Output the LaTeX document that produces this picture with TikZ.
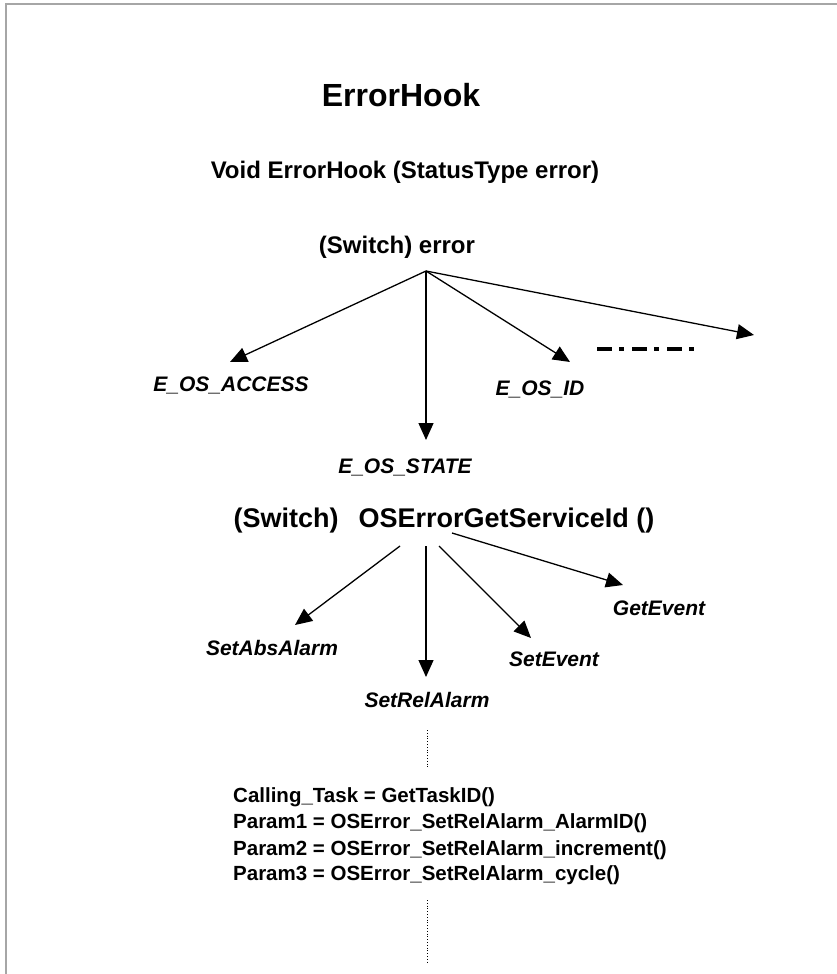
\documentclass[tikz,border=0pt]{standalone}
\usepackage{fontspec}
\setmainfont{Liberation Sans}
\usetikzlibrary{arrows.meta}

\begin{document}
\begin{tikzpicture}[x=1pt, y=-1pt,
    judul/.style={font=\bfseries\fontsize{32}{38}\selectfont},
    kepala/.style={font=\bfseries\fontsize{24}{29}\selectfont},
    cabang/.style={font=\bfseries\itshape\fontsize{21}{25}\selectfont},
    kode/.style={font=\bfseries\fontsize{20.5}{26}\selectfont, anchor=base west, inner sep=0pt},
    panah/.style={line width=1.3pt, -{Triangle[length=17pt,width=15pt]}}]
    \useasboundingbox (0,0) rectangle (837,974);

    % Bingkai halaman
    \draw[gray!70, line width=1.5pt] (6,974) -- (6,4) -- (837,4);

    % Judul dan kepala fungsi
    \node[judul] (judul) at (401,95) {ErrorHook};
    \node[kepala] (fungsi) at (405,172) {Void ErrorHook (StatusType error)};
    \node[kepala] (switch1) at (397,247) {(Switch) error};

    % Cabang pertama: nilai error
    \coordinate (akar1) at (426,271);
    \coordinate (ujungAccess) at (230,362);
    \coordinate (ujungState) at (426,440);
    \coordinate (ujungId) at (570,362);
    \coordinate (ujungLain) at (754,335);
    \foreach \u in {ujungAccess,ujungState,ujungId,ujungLain} {
        \draw[panah] (akar1) -- (\u);
    }
    \node[cabang] (access) at (231,385) {E\_OS\_ACCESS};
    \node[cabang] (state) at (405,467) {E\_OS\_STATE};
    \node[cabang] (id) at (540,389) {E\_OS\_ID};
    \draw[line width=4pt, dash pattern=on 15pt off 7pt on 5pt off 8pt] (597,349) -- (694,349);

    % Cabang kedua: layanan OS
    \node[font=\bfseries\fontsize{27}{32}\selectfont] (switch2) at (444,521)
        {(Switch)\hspace{20pt}OSErrorGetServiceId ()};
    \coordinate (akarAbs) at (400,546);
    \coordinate (akarRel) at (426,546);
    \coordinate (akarSet) at (439,546);
    \coordinate (akarGet) at (452,533);
    \coordinate (ujungAbs) at (295,625);
    \coordinate (ujungRel) at (426,677);
    \coordinate (ujungSet) at (531,638);
    \coordinate (ujungGet) at (623,585);
    \foreach \n in {Abs,Rel,Set,Get} {
        \draw[panah] (akar\n) -- (ujung\n);
    }
    \node[cabang] (absalarm) at (272,648) {SetAbsAlarm};
    \node[cabang] (relalarm) at (427,700) {SetRelAlarm};
    \node[cabang] (setevent) at (554,659) {SetEvent};
    \node[cabang] (getevent) at (659,608) {GetEvent};

    % Rincian SetRelAlarm
    \draw[dotted, line width=0.8pt] (427,730) -- (427,767);
    \node[kode] (baris1) at (233,802) {Calling\_Task = GetTaskID()};
    \node[kode] (baris2) at (233,828) {Param1 = OSError\_SetRelAlarm\_AlarmID()};
    \node[kode] (baris3) at (233,855) {Param2 = OSError\_SetRelAlarm\_increment()};
    \node[kode] (baris4) at (233,880) {Param3 = OSError\_SetRelAlarm\_cycle()};
    \draw[dotted, line width=0.8pt] (427,900) -- (427,963);

\end{tikzpicture}
\end{document}
